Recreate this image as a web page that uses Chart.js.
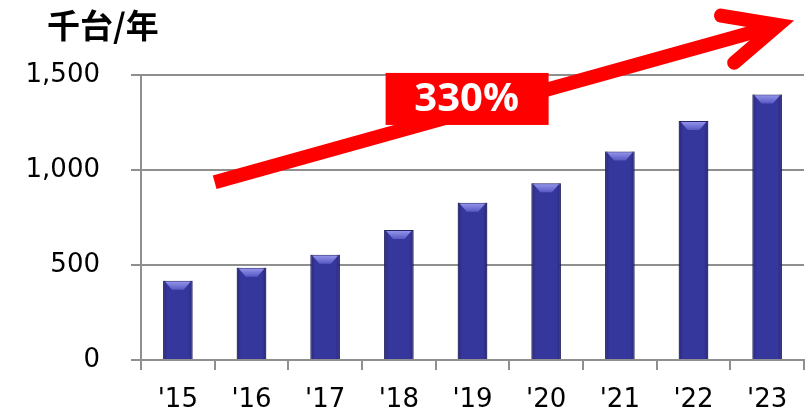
<!DOCTYPE html>
<html>
<head>
<meta charset="utf-8">
<script src="https://cdn.jsdelivr.net/npm/chart.js@4"></script>
<style>
  body { margin: 0; background: #fff; }
  #wrap { width: 805px; height: 416px; position: relative; }
</style>
</head>
<body>
<div id="wrap"><canvas id="myChart"></canvas></div>
<script>
var years = ["'15", "'16", "'17", "'18", "'19", "'20", "'21", "'22", "'23"];
var units = [417, 486, 554, 684, 828, 930, 1098, 1258, 1398];
var y_ticks = [0, 500, 1000, 1500];
var unit_label = '千台/年';
var growth_label = '330%';
// arrow ends and label centre, in (category index, value)
var arrow_from = [0.5, 935];
var arrow_to = [8.15, 1763];
var growth_pos = [3.92, 1374];

var grid_grey = '#8f8f8f';

var bevelPlugin = {
    id: 'bevel',
    afterDatasetsDraw: function (chart) {
        var ctx = chart.ctx;
        chart.getDatasetMeta(0).data.forEach(function (bar) {
            var left = bar.x - bar.width / 2;
            var right = bar.x + bar.width / 2;
            var top = bar.y;
            var bottom = bar.base;
            ctx.save();
            // darker side edges
            var g = ctx.createLinearGradient(left, 0, right, 0);
            g.addColorStop(0, 'rgba(20,20,70,0.45)');
            g.addColorStop(0.15, 'rgba(20,20,70,0)');
            g.addColorStop(0.85, 'rgba(20,20,70,0)');
            g.addColorStop(1, 'rgba(20,20,70,0.45)');
            ctx.fillStyle = g;
            ctx.fillRect(left, top, right - left, bottom - top);
            // light top bevel
            var tg = ctx.createLinearGradient(0, top, 0, top + 10);
            tg.addColorStop(0, '#9a9aee');
            tg.addColorStop(1, '#5151bf');
            ctx.fillStyle = tg;
            ctx.beginPath();
            ctx.moveTo(left + 2, top + 1);
            ctx.lineTo(right - 2, top + 1);
            ctx.lineTo(right - 9, top + 9);
            ctx.lineTo(left + 9, top + 9);
            ctx.closePath();
            ctx.fill();
            ctx.restore();
        });
    },
    afterDraw: function (chart) {
        var ctx = chart.ctx;
        var xs = chart.scales.x, ys = chart.scales.y;
        ctx.save();
        // title
        ctx.fillStyle = '#000';
        ctx.font = 'bold 33px "Noto Sans CJK JP"';
        ctx.textBaseline = 'middle';
        ctx.textAlign = 'left';
        ctx.fillText(unit_label, 47, 25);

        // growth arrow
        var x1 = xs.getPixelForValue(arrow_from[0]), y1 = ys.getPixelForValue(arrow_from[1]);
        var x2 = xs.getPixelForValue(arrow_to[0]), y2 = ys.getPixelForValue(arrow_to[1]);
        var ang = Math.atan2(y2 - y1, x2 - x1);
        var armLen = 58, spread = 25 * Math.PI / 180;
        ctx.strokeStyle = '#ff0000';
        ctx.lineWidth = 14;
        ctx.lineCap = 'butt';
        ctx.beginPath();
        ctx.moveTo(x1, y1);
        ctx.lineTo(x2 - 6 * Math.cos(ang), y2 - 6 * Math.sin(ang));
        ctx.stroke();
        ctx.lineCap = 'round';
        ctx.lineJoin = 'miter';
        ctx.beginPath();
        ctx.moveTo(x2 - armLen * Math.cos(ang - spread), y2 - armLen * Math.sin(ang - spread));
        ctx.lineTo(x2, y2);
        ctx.lineTo(x2 - armLen * Math.cos(ang + spread), y2 - armLen * Math.sin(ang + spread));
        ctx.stroke();

        // label box
        var cx = xs.getPixelForValue(growth_pos[0]), cy = ys.getPixelForValue(growth_pos[1]);
        ctx.fillStyle = '#ff0000';
        ctx.fillRect(cx - 81, cy - 26, 163, 52);
        ctx.fillStyle = '#fff';
        ctx.font = 'bold 40px "Open Sans"';
        ctx.textAlign = 'center';
        ctx.textBaseline = 'middle';
        ctx.fillText(growth_label, cx, cy + 1);
        ctx.restore();
    }
};

var ctx = document.getElementById('myChart').getContext('2d');
var myChart = new Chart(ctx, {
    type: 'bar',
    data: {
        labels: years,
        datasets: [{
            data: units,
            backgroundColor: '#36379d',
            borderColor: '#25256c',
            borderWidth: 1,
            categoryPercentage: 1,
            barPercentage: 0.4
        }]
    },
    options: {
        responsive: true,
        maintainAspectRatio: false,
        animation: false,
        locale: 'en-US',
        layout: { padding: { top: 75, right: 1, left: 0, bottom: 0 } },
        plugins: {
            legend: { display: false },
            tooltip: { enabled: false }
        },
        scales: {
            x: {
                grid: {
                    drawOnChartArea: false,
                    drawTicks: true,
                    tickLength: 10,
                    color: grid_grey,
                    lineWidth: 2
                },
                border: { display: true, color: grid_grey, width: 2 },
                ticks: {
                    color: '#000',
                    padding: 15,
                    font: { family: 'DejaVu Sans', size: 26 }
                },
                afterFit: function (scale) { scale.height = 56; }
            },
            y: {
                min: 0,
                max: 1500,
                afterBuildTicks: function (scale) {
                    scale.ticks = y_ticks.map(function (v) { return { value: v }; });
                },
                grid: {
                    color: grid_grey,
                    lineWidth: 2,
                    tickLength: 10
                },
                border: { display: true, color: grid_grey, width: 2 },
                ticks: {
                    color: '#000',
                    padding: 31,
                    font: { family: 'DejaVu Sans', size: 26 },
                    callback: function (v) { return v.toLocaleString('en-US'); }
                },
                afterFit: function (scale) { scale.width = 141; }
            }
        }
    },
    plugins: [bevelPlugin]
});
</script>
</body>
</html>
